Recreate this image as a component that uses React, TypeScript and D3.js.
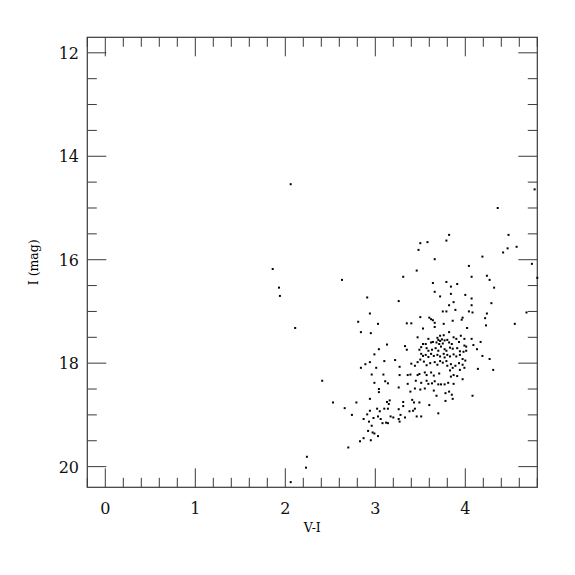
import React, { useEffect, useRef } from "react";
import * as d3 from "d3";

// colour index V-I for each star
const colorVI = [
  3.82, 3.79, 3.5, 3.58, 3.48, 4.48, 4.57, 4.47, 4.42, 4.19, 3.66, 4.74, 4.04, 3.46, 2.63, 3.31,
  4.07, 4.24, 4.27, 3.64, 3.79, 3.91, 3.84, 4.32, 3.66, 3.84, 3.72, 4.0, 2.91, 3.26, 4.07, 3.87,
  3.82, 4.29, 4.07, 3.75, 3.79, 3.89, 4.04, 4.08, 4.24, 4.68, 2.94, 3.5, 3.6, 3.62, 3.64, 3.97,
  3.96, 3.86, 4.22, 2.81, 3.03, 3.35, 3.4, 3.66, 3.76, 3.66, 4.23, 4.55, 2.84, 2.95, 3.53, 4.02,
  3.82, 3.76, 3.72, 3.47, 3.59, 3.69, 3.7, 3.74, 3.77, 3.8, 3.87, 3.9, 3.95, 3.99, 4.07, 4.17,
  3.13, 3.33, 3.04, 3.35, 3.51, 3.53, 3.56, 3.62, 3.64, 3.68, 3.71, 3.72, 3.75, 3.82, 3.85, 3.93,
  3.99, 4.01, 4.09, 4.13, 3.49, 3.57, 3.59, 3.63, 3.67, 3.7, 3.73, 3.77, 3.79, 3.83, 3.86, 3.91,
  3.94, 3.98, 4.01, 4.19, 4.27, 2.99, 2.94, 2.89, 2.84, 3.1, 3.22, 3.27, 3.4, 3.44, 3.47, 3.51,
  3.53, 3.56, 3.59, 3.62, 3.65, 3.69, 3.72, 3.76, 3.77, 3.8, 3.83, 3.87, 3.9, 3.94, 3.97, 4.0,
  4.14, 4.31, 3.01, 3.5, 3.54, 3.57, 3.61, 3.66, 3.69, 3.72, 3.75, 3.79, 3.8, 3.84, 3.86, 3.89,
  3.93, 3.97, 3.99, 2.41, 2.96, 3.09, 3.27, 3.36, 3.39, 3.47, 3.49, 3.55, 3.57, 3.62, 3.65, 3.71,
  3.83, 3.84, 3.87, 3.91, 3.94, 3.97, 2.99, 3.11, 3.14, 3.36, 3.45, 3.51, 3.57, 3.59, 3.63, 3.66,
  3.7, 3.73, 3.77, 3.81, 3.87, 3.04, 3.04, 3.26, 3.39, 3.44, 3.5, 3.55, 3.65, 3.68, 3.78, 3.82,
  3.85, 4.08, 3.86, 3.78, 2.53, 2.66, 2.79, 2.94, 3.13, 3.16, 3.15, 3.31, 3.41, 3.43, 3.49, 3.6,
  2.74, 2.87, 2.91, 2.94, 3.02, 3.05, 3.03, 3.1, 3.14, 3.26, 3.31, 3.44, 3.42, 3.7, 2.93, 2.98,
  3.06, 3.08, 3.12, 3.14, 3.17, 3.2, 3.26, 3.27, 3.28, 3.33, 3.38, 3.46, 3.51, 2.96, 2.92, 2.97,
  2.99, 3.03, 2.87, 2.83, 2.95, 2.7,
  2.06, 1.86, 1.93, 1.94, 2.11, 2.24, 2.23, 2.06, 4.36, 4.77, 4.8,
];

// I magnitude for each star
const magI = [
  15.52, 15.63, 15.68, 15.66, 15.81, 15.52, 15.75, 15.78, 15.86, 15.94, 15.99, 16.08, 16.12, 16.21, 16.39, 16.33,
  16.33, 16.31, 16.39, 16.45, 16.43, 16.47, 16.52, 16.54, 16.62, 16.66, 16.71, 16.68, 16.73, 16.8, 16.75, 16.82,
  16.88, 16.84, 16.88, 17.0, 17.0, 16.97, 17.0, 17.02, 17.04, 17.02, 17.04, 17.11, 17.12, 17.15, 17.17, 17.12,
  17.16, 17.18, 17.13, 17.2, 17.24, 17.23, 17.23, 17.22, 17.24, 17.3, 17.27, 17.24, 17.4, 17.42, 17.33, 17.32,
  17.4, 17.46, 17.47, 17.5, 17.53, 17.51, 17.55, 17.54, 17.56, 17.55, 17.5, 17.53, 17.47, 17.53, 17.53, 17.59,
  17.64, 17.67, 17.73, 17.74, 17.69, 17.63, 17.63, 17.6, 17.59, 17.6, 17.63, 17.57, 17.62, 17.6, 17.63, 17.59,
  17.66, 17.68, 17.65, 17.73, 17.74, 17.71, 17.76, 17.74, 17.71, 17.76, 17.68, 17.73, 17.76, 17.7, 17.72, 17.71,
  17.77, 17.78, 17.76, 17.86, 17.92, 17.83, 17.98, 18.02, 18.09, 17.96, 17.94, 18.07, 18.01, 18.05, 17.98, 17.82,
  17.86, 17.84, 17.88, 17.82, 17.86, 17.84, 17.87, 17.82, 17.89, 17.84, 17.87, 17.83, 17.87, 17.84, 17.92, 17.95,
  18.11, 18.13, 18.09, 17.93, 17.97, 18.04, 18.0, 17.98, 18.03, 17.96, 17.99, 17.96, 18.05, 18.02, 18.09, 18.05,
  18.0, 18.03, 18.09, 18.34, 18.22, 18.22, 18.23, 18.23, 18.22, 18.23, 18.21, 18.18, 18.23, 18.18, 18.24, 18.2,
  18.14, 18.26, 18.23, 18.25, 18.13, 18.31, 18.38, 18.35, 18.39, 18.4, 18.34, 18.38, 18.34, 18.4, 18.39, 18.35,
  18.41, 18.41, 18.41, 18.38, 18.4, 18.5, 18.56, 18.47, 18.55, 18.49, 18.51, 18.49, 18.53, 18.63, 18.58, 18.55,
  18.61, 18.63, 18.69, 18.73, 18.76, 18.87, 18.76, 18.69, 18.75, 18.72, 18.79, 18.75, 18.71, 18.76, 18.76, 18.81,
  19.0, 19.08, 18.99, 18.92, 18.88, 18.93, 19.03, 18.88, 18.88, 18.89, 18.83, 18.88, 18.92, 18.97, 19.13, 19.06,
  19.08, 19.16, 19.15, 19.16, 19.03, 19.05, 19.08, 19.13, 19.0, 19.05, 18.93, 19.03, 19.03, 19.21, 19.31, 19.34,
  19.36, 19.41, 19.45, 19.51, 19.49, 19.63,
  14.54, 16.18, 16.54, 16.7, 17.32, 19.81, 20.02, 20.3, 15.0, 14.64, 16.35,
];

const xTicks = [0, 1, 2, 3, 4];
const yTicks = [12, 14, 16, 18, 20];

export default function App() {
  const svgRef = useRef<SVGSVGElement>(null);

  useEffect(() => {
    const svg = d3.select(svgRef.current);
    svg.selectAll("*").remove();

    const left = 87.3, right = 537.3, top = 37.3, bottom = 487.3;
    const frame = "#3a3a3a";
    const font = "DejaVu Serif, Liberation Serif, serif";

    const x = d3.scaleLinear().domain([-0.2, 4.8]).range([left, right]);
    const y = d3.scaleLinear().domain([11.7, 20.4]).range([top, bottom]);

    const major = 19, minor = 9.5;

    // minor / major ticks on all four sides
    const xMinor = d3.range(-0.2, 4.81, 0.2).map((v) => +v.toFixed(1));
    const yMinor = d3.range(12, 20.01, 0.5);
    const g = svg.append("g").attr("stroke", frame).attr("stroke-width", 1);

    xMinor.forEach((v) => {
      const len = Math.abs(v - Math.round(v)) < 1e-6 ? major : minor;
      g.append("line").attr("x1", x(v)).attr("x2", x(v)).attr("y1", bottom).attr("y2", bottom - len);
      g.append("line").attr("x1", x(v)).attr("x2", x(v)).attr("y1", top).attr("y2", top + len);
    });
    yMinor.forEach((v) => {
      const len = v % 2 === 0 ? major : minor;
      g.append("line").attr("x1", left).attr("x2", left + len).attr("y1", y(v)).attr("y2", y(v));
      g.append("line").attr("x1", right).attr("x2", right - len).attr("y1", y(v)).attr("y2", y(v));
    });

    // frame
    svg
      .append("rect")
      .attr("x", left)
      .attr("y", top)
      .attr("width", right - left)
      .attr("height", bottom - top)
      .attr("fill", "none")
      .attr("stroke", frame)
      .attr("stroke-width", 1.2);

    // tick labels
    svg
      .selectAll(".xl")
      .data(xTicks)
      .enter()
      .append("text")
      .attr("x", (d) => x(d))
      .attr("y", 514)
      .attr("text-anchor", "middle")
      .attr("font-family", font)
      .attr("font-size", 16)
      .attr("fill", "#111")
      .text((d) => d);

    svg
      .selectAll(".yl")
      .data(yTicks)
      .enter()
      .append("text")
      .attr("x", 79)
      .attr("y", (d) => y(d) + 6)
      .attr("text-anchor", "end")
      .attr("font-family", font)
      .attr("font-size", 16)
      .attr("fill", "#111")
      .text((d) => d);

    // axis titles
    svg
      .append("text")
      .attr("x", (left + right) / 2)
      .attr("y", 532)
      .attr("text-anchor", "middle")
      .attr("font-family", font)
      .attr("font-size", 12.5)
      .text("V-I");

    svg
      .append("text")
      .attr("transform", `translate(38,${(top + bottom) / 2}) rotate(-90)`)
      .attr("text-anchor", "middle")
      .attr("font-family", font)
      .attr("font-size", 12.5)
      .text("I (mag)");

    // stars
    svg
      .append("g")
      .selectAll("rect")
      .data(d3.range(colorVI.length))
      .enter()
      .append("rect")
      .attr("x", (i) => x(colorVI[i]) - 1)
      .attr("y", (i) => y(magI[i]) - 1)
      .attr("width", 2)
      .attr("height", 2)
      .attr("fill", "#000");
  }, []);

  return (
    <svg
      ref={svgRef}
      width={575}
      height={575}
      style={{ position: "absolute", left: 0, top: 0, background: "#fff" }}
    />
  );
}
